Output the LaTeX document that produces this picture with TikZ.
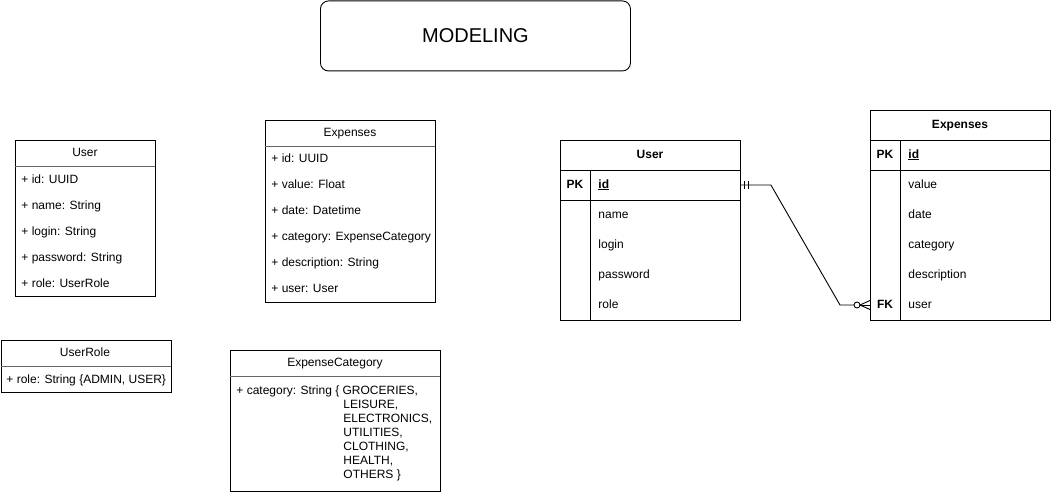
\documentclass[tikz,border=0pt]{standalone}
\usepackage{fontspec}
\setmainfont{Liberation Sans}
\usetikzlibrary{calc}
\begin{document}
\begin{tikzpicture}[x=1pt,y=-1pt,
  line width=0.9pt,
  fnt/.style={font=\fontsize{12}{14}\selectfont, text height=8.6pt, text depth=2.4pt},
  box/.style={draw=black, anchor=north west, inner sep=0pt},
  txt/.style={fnt, anchor=west, inner sep=0pt},
  hdr/.style={fnt, anchor=center, inner sep=0pt},
  bhdr/.style={fnt, font=\fontsize{12}{14}\selectfont\bfseries, anchor=center, inner sep=0pt},
  sep/.style={draw=black!60, line width=0.8pt},
  conn/.style={draw=black, line width=0.9pt}
]
\useasboundingbox (0,0) rectangle (1051,494);

% Title
\node[draw=black, rounded corners=8pt, minimum width=310pt, minimum height=70pt, inner sep=0pt, anchor=north west,
      font=\fontsize{20}{24}\selectfont] (title) at (320,0.5) {MODELING};

% ---------- UML: User ----------
\node[box, minimum width=140pt, minimum height=156pt] (uUser) at (15,140) {};
\draw[sep] (15,166) -- (155,166);
\node[hdr] (uUserH) at (85,153) {User};
\node[txt] (uU1) at (21,180) {+ id: UUID};
\node[txt] (uU2) at (21,206) {+ name: String};
\node[txt] (uU3) at (21,232) {+ login: String};
\node[txt] (uU4) at (21,258) {+ password: String};
\node[txt] (uU5) at (21,284) {+ role: UserRole};

% ---------- UML: Expenses ----------
\node[box, minimum width=170pt, minimum height=182pt] (uExp) at (265,120) {};
\draw[sep] (265,146) -- (435,146);
\node[hdr] (uExpH) at (350,133) {Expenses};
\node[txt] (uE1) at (271,159) {+ id: UUID};
\node[txt] (uE2) at (271,185) {+ value: Float};
\node[txt] (uE3) at (271,211) {+ date: Datetime};
\node[txt] (uE4) at (271,237) {+ category: ExpenseCategory};
\node[txt] (uE5) at (271,263) {+ description: String};
\node[txt] (uE6) at (271,289) {+ user: User};

% ---------- UML: UserRole ----------
\node[box, minimum width=170pt, minimum height=52pt] (uRole) at (0.5,340) {};
\draw[sep] (0.5,366) -- (170.5,366);
\node[hdr] (uRoleH) at (85,353) {UserRole};
\node[txt] (uR1) at (6,380) {+ role: String \{ADMIN, USER\}};

% ---------- UML: ExpenseCategory ----------
\node[box, minimum width=210pt, minimum height=141pt] (uCat) at (230,350) {};
\draw[sep] (230,376) -- (440,376);
\node[hdr] (uCatH) at (335,363) {ExpenseCategory};
\node[txt] (uC1) at (236,391) {+ category: String \{ GROCERIES,};
\node[txt] (uC2) at (343,405) {LEISURE,};
\node[txt] (uC3) at (343,419) {ELECTRONICS,};
\node[txt] (uC4) at (343,433) {UTILITIES,};
\node[txt] (uC5) at (343,447) {CLOTHING,};
\node[txt] (uC6) at (343,461) {HEALTH,};
\node[txt] (uC7) at (343,475) {OTHERS \}};

% ---------- ER: User ----------
\node[box, minimum width=180pt, minimum height=180pt] (eUser) at (560,140) {};
\draw (560,170) -- (740,170);
\draw (560,200) -- (740,200);
\draw (590,170) -- (590,320);
\node[bhdr] (eUserH) at (650,155) {User};
\node[bhdr] (eUserPK) at (575,185) {PK};
\node[txt, font=\fontsize{12}{14}\selectfont\bfseries] (eUserId) at (598,185) {\underline{id}};
\node[txt] (eU2) at (598,215) {name};
\node[txt] (eU3) at (598,245) {login};
\node[txt] (eU4) at (598,275) {password};
\node[txt] (eU5) at (598,305) {role};

% ---------- ER: Expenses ----------
\node[box, minimum width=180pt, minimum height=210pt] (eExp) at (870,110) {};
\draw (870,140) -- (1050,140);
\draw (870,170) -- (1050,170);
\draw (900,140) -- (900,320);
\node[bhdr] (eExpH) at (960,125) {Expenses};
\node[bhdr] (eExpPK) at (885,155) {PK};
\node[txt, font=\fontsize{12}{14}\selectfont\bfseries] (eExpId) at (908,155) {\underline{id}};
\node[txt] (eE2) at (908,185) {value};
\node[txt] (eE3) at (908,215) {date};
\node[txt] (eE4) at (908,245) {category};
\node[txt] (eE5) at (908,275) {description};
\node[bhdr] (eExpFK) at (885,305) {FK};
\node[txt] (eE6) at (908,305) {user};

% ---------- Relationship ----------
\coordinate (pA) at (eUser.east |- eUserId);
\coordinate (pB) at (eExp.west |- eE6);
\draw[conn] (pA) -- ++(30,0) -- ($(pB)+(-30,0)$) -- ($(pB)+(-16,0)$);
\draw[conn] ($(pA)+(4,-4)$) -- ++(0,8);
\draw[conn] ($(pA)+(7.5,-4)$) -- ++(0,8);
\draw[conn] ($(pB)+(-13,0)$) circle (3pt);
\draw[conn] ($(pB)+(-10,0)$) -- (pB);
\draw[conn] ($(pB)+(-10,0)$) -- ($(pB)+(0,-4.5)$);
\draw[conn] ($(pB)+(-10,0)$) -- ($(pB)+(0,4.5)$);
\end{tikzpicture}
\end{document}
